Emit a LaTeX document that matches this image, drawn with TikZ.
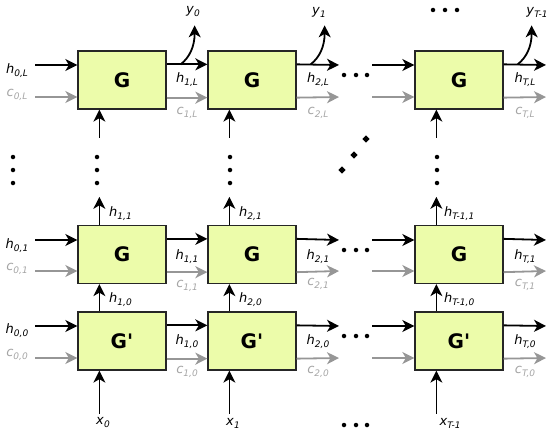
\documentclass[tikz,border=0pt]{standalone}
\usepackage{fontspec}
\setmainfont{DejaVu Sans}
\usetikzlibrary{arrows.meta,calc,shapes.geometric}
\definecolor{boxfill}{RGB}{236,252,170}
\definecolor{cgray}{RGB}{150,150,150}
\definecolor{lgray}{RGB}{165,165,165}
\newcommand\lb[2]{\textit{#1}\raisebox{-3pt}{\fontsize{9}{9}\selectfont\textit{#2}}}
\begin{document}
\begin{tikzpicture}[x=1pt,y=-1pt,
  gbox/.style={draw=black!85, line width=1.3pt, fill=boxfill, minimum width=88pt, minimum height=58pt, inner sep=0pt, font=\fontsize{20}{20}\selectfont\bfseries},
  harr/.style={line width=1.8pt, -{Stealth[length=12pt,width=12pt,inset=3.5pt]}},
  carr/.style={harr, draw=cgray, fill=cgray},
  varr/.style={line width=1.4pt, -{Stealth[length=12pt,width=12pt,inset=3.5pt]}},
  lab/.style={font=\fontsize{13}{13}\selectfont, inner sep=0pt},
  glab/.style={lab, text=lgray},
  dotm/.style={fill=black, circle, inner sep=0pt, minimum size=4.5pt},
  dotd/.style={fill=black, diamond, inner sep=0pt, minimum size=7.5pt}]
\useasboundingbox (0,0) rectangle (553,436);

% boxes
\node[gbox] (t1) at (122,80) {G};
\node[gbox] (t2) at (252,80) {G};
\node[gbox] (t3) at (459,80) {G};
\node[gbox] (m1) at (122,254.5) {G};
\node[gbox] (m2) at (252,254.5) {G};
\node[gbox] (m3) at (459,254.5) {G};
\node[gbox] (b1) at (122,341) {G\textquotesingle};
\node[gbox] (b2) at (252,341) {G\textquotesingle};
\node[gbox] (b3) at (459,341) {G\textquotesingle};

% free ends
\foreach \r/\yh/\yc in {t/65/97, m/240/271, b/326/358}{
  \coordinate (\r hin) at (35,\yh);
  \coordinate (\r cin) at (35,\yc);
  \coordinate (\r hout2) at (339,\yh);
  \coordinate (\r cout2) at (339,\yc);
  \coordinate (\r hin3) at (372,\yh);
  \coordinate (\r cin3) at (372,\yc);
  \coordinate (\r hout3) at (546,\yh);
  \coordinate (\r cout3) at (546,\yc);
}

% horizontal arrows
\foreach \r in {t,m,b}{
  \draw[harr] (\r hin) -- (\r hin -| \r1.west);
  \draw[carr] (\r cin) -- (\r cin -| \r1.west);
  \draw[harr] ([yshift=-14pt]\r1.north east) -- ([yshift=-14pt]\r2.north west);
  \draw[carr] ([yshift=12pt]\r1.south east) -- ([yshift=12pt]\r2.south west);
  \draw[harr] ([yshift=-14pt]\r2.north east) -- (\r hout2);
  \draw[carr] ([yshift=12pt]\r2.south east) -- (\r cout2);
  \draw[harr] (\r hin3) -- (\r hin3 -| \r3.west);
  \draw[carr] (\r cin3) -- (\r cin3 -| \r3.west);
  \draw[harr] ([yshift=-14pt]\r3.north east) -- (\r hout3);
  \draw[carr] ([yshift=12pt]\r3.south east) -- (\r cout3);
}

% vertical arrows
\foreach \c in {1,2,3}{
  \coordinate (tv\c) at ($(t\c.south west)+(22,28)$);
  \coordinate (mv\c) at ($(m\c.north west)+(22,-28)$);
  \coordinate (xv\c) at ($(b\c.south west)+(22,43)$);
  \draw[varr] (tv\c) -- ([xshift=22pt]t\c.south west);
  \draw[varr] ([xshift=22pt]m\c.north west) -- (mv\c);
  \draw[varr] ([xshift=22pt]b\c.north west) -- ([xshift=22pt]m\c.south west);
  \draw[varr] (xv\c) -- ([xshift=22pt]b\c.south west);
  \coordinate (y\c) at ($(t\c.north east)+(28,-25)$);
  \draw[harr] ($(t\c.north east)+(14,14)$) .. controls ($(t\c.north east)+(23,7)$) and ($(t\c.north east)+(28,-4)$) .. (y\c);
}

% labels top row
\node[lab] (lh0L) at (17,71) {\lb{h}{0,L}};
\node[glab] (lc0L) at (17,95) {\lb{c}{0,L}};
\node[lab] (lh1L) at (187,80) {\lb{h}{1,L}};
\node[glab] (lc1L) at (187,113) {\lb{c}{1,L}};
\node[lab] (lh2L) at (318,80) {\lb{h}{2,L}};
\node[glab] (lc2L) at (318,113) {\lb{c}{2,L}};
\node[lab] (lhTL) at (525,80) {\lb{h}{T,L}};
\node[glab] (lcTL) at (525,113) {\lb{c}{T,L}};
\node[lab] (ly0) at (193,12) {\lb{y}{0}};
\node[lab] (ly1) at (319,12) {\lb{y}{1}};
\node[lab] (lyT) at (537,12) {\lb{y}{T-1}};

% labels middle row
\node[lab] (lh01) at (17,246) {\lb{h}{0,1}};
\node[glab] (lc01) at (17,269) {\lb{c}{0,1}};
\node[lab] (lh11) at (187,257) {\lb{h}{1,1}};
\node[glab] (lc11) at (187,286) {\lb{c}{1,1}};
\node[lab] (lh21) at (318,257) {\lb{h}{2,1}};
\node[glab] (lc21) at (318,284) {\lb{c}{2,1}};
\node[lab] (lhT1) at (525,257) {\lb{h}{T,1}};
\node[glab] (lcT1) at (525,285) {\lb{c}{T,1}};
\node[lab, anchor=west] (lu11) at (109,214) {\lb{h}{1,1}};
\node[lab, anchor=west] (lu21) at (239,214) {\lb{h}{2,1}};
\node[lab, anchor=west] (luT1) at (444,214) {\lb{h}{T-1,1}};

% labels bottom row
\node[lab] (lh00) at (17,331) {\lb{h}{0,0}};
\node[glab] (lc00) at (17,355) {\lb{c}{0,0}};
\node[lab] (lh10) at (187,342) {\lb{h}{1,0}};
\node[glab] (lc10) at (187,372) {\lb{c}{1,0}};
\node[lab] (lh20) at (318,342) {\lb{h}{2,0}};
\node[glab] (lc20) at (318,372) {\lb{c}{2,0}};
\node[lab] (lhT0) at (525,342) {\lb{h}{T,0}};
\node[glab] (lcT0) at (525,372) {\lb{c}{T,0}};
\node[lab, anchor=west] (lu10) at (109,300) {\lb{h}{1,0}};
\node[lab, anchor=west] (lu20) at (239,300) {\lb{h}{2,0}};
\node[lab, anchor=west] (luT0) at (444,300) {\lb{h}{T-1,0}};
\node[lab] (lx0) at (103,423) {\lb{x}{0}};
\node[lab] (lx1) at (233,423) {\lb{x}{1}};
\node[lab] (lxT) at (450,423) {\lb{x}{T-1}};

% dots
\foreach \y in {75,250,336,425}{
  \foreach \x in {344,356,367} \node[dotm] at (\x,\y) {};
}
\foreach \x in {433,445,457} \node[dotm] at (\x,10) {};
\foreach \x in {13,97,230,437}{
  \foreach \y in {157,170,183} \node[dotm] at (\x,\y) {};
}
\node[dotd] (dd1) at (342,170) {};
\node[dotd] (dd2) at (354,155) {};
\node[dotd] (dd3) at (366,139) {};
\end{tikzpicture}
\end{document}
